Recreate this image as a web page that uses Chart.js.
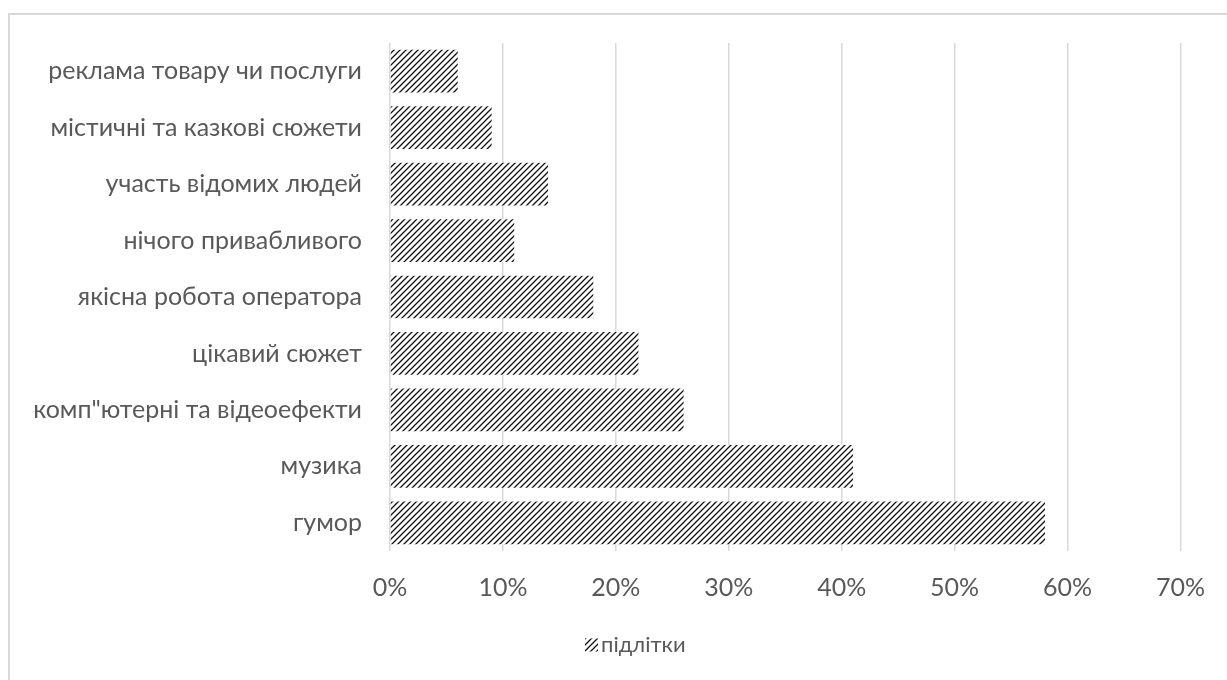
<!DOCTYPE html>
<html>
<head>
<meta charset="utf-8">
<script src="https://cdn.jsdelivr.net/npm/chart.js@4"></script>
<style>
  html, body { margin: 0; padding: 0; background: #ffffff; overflow: hidden; }
  #frame { position: absolute; left: 8px; top: 13px; width: 1240px; height: 700px; border: 2px solid #d9d9d9; box-sizing: border-box; }
  #wrap { position: absolute; left: 0; top: 0; width: 1227px; height: 680px; }
</style>
</head>
<body>
<div id="frame"></div>
<div id="wrap"><canvas id="chart" width="1227" height="680"></canvas></div>
<script>
// Categories, listed top to bottom
const categories = [
  'реклама товару чи послуги',
  'містичні та казкові сюжети',
  'участь відомих людей',
  'нічого привабливого',
  'якісна робота оператора',
  'цікавий сюжет',
  'комп"ютерні та відеоефекти',
  'музика',
  'гумор'
];
// Share of teenagers, percent
const teens = [6, 9, 14, 11, 18, 22, 26, 41, 58];
const seriesName = 'підлітки';
const xTicks = [0, 10, 20, 30, 40, 50, 60, 70];

const FONT = 'Lato';
const TEXT = '#595959';

// Wide upward diagonal hatch
function hatch() {
  const s = 6;
  const c = document.createElement('canvas');
  c.width = s; c.height = s;
  const g = c.getContext('2d');
  g.fillStyle = '#ffffff';
  g.fillRect(0, 0, s, s);
  g.strokeStyle = '#111111';
  g.lineWidth = 1.3;
  g.beginPath();
  g.moveTo(-1, s + 1); g.lineTo(s + 1, -1);
  g.moveTo(-1, 1); g.lineTo(1, -1);
  g.moveTo(s - 1, s + 1); g.lineTo(s + 1, s - 1);
  g.stroke();
  return g.createPattern(c, 'repeat');
}
const pattern = hatch();

// Legend drawn below the axis, sample square followed by the series name
const legendPlugin = {
  id: 'seriesLegend',
  afterDraw(chart) {
    const ctx = chart.ctx;
    const ds = chart.data.datasets[0];
    const x = 585, y = 645, box = 13;
    ctx.save();
    ctx.fillStyle = ds.backgroundColor;
    ctx.fillRect(x, y - box / 2, box, box);
    ctx.fillStyle = TEXT;
    ctx.font = '22px ' + FONT;
    ctx.textAlign = 'left';
    ctx.textBaseline = 'middle';
    ctx.fillText(ds.label, x + box + 3, y);
    ctx.restore();
  }
};

new Chart(document.getElementById('chart'), {
  type: 'bar',
  data: {
    labels: categories,
    datasets: [{
      label: seriesName,
      data: teens,
      backgroundColor: pattern,
      borderWidth: 0,
      categoryPercentage: 0.78,
      barPercentage: 0.97
    }]
  },
  options: {
    indexAxis: 'y',
    responsive: false,
    animation: false,
    layout: { padding: { top: 38, right: 43, bottom: 52, left: 0 } },
    scales: {
      x: {
        min: 0, max: 70,
        afterBuildTicks: (s) => { s.ticks = xTicks.map(v => ({ value: v })); },
        ticks: {
          callback: (v) => v + '%',
          color: TEXT,
          font: { family: FONT, size: 25 },
          padding: 22
        },
        grid: { color: '#d9d9d9', lineWidth: 1.5, drawTicks: false },
        border: { display: false },
        afterFit: (s) => { s.height = 77; }
      },
      y: {
        ticks: {
          color: TEXT,
          font: { family: FONT, size: 25 },
          padding: 28
        },
        grid: { display: false, drawTicks: false },
        border: { display: false },
        afterFit: (s) => { s.width = 390; }
      }
    },
    plugins: {
      legend: { display: false },
      tooltip: { enabled: false }
    }
  },
  plugins: [legendPlugin]
});
</script>
</body>
</html>
